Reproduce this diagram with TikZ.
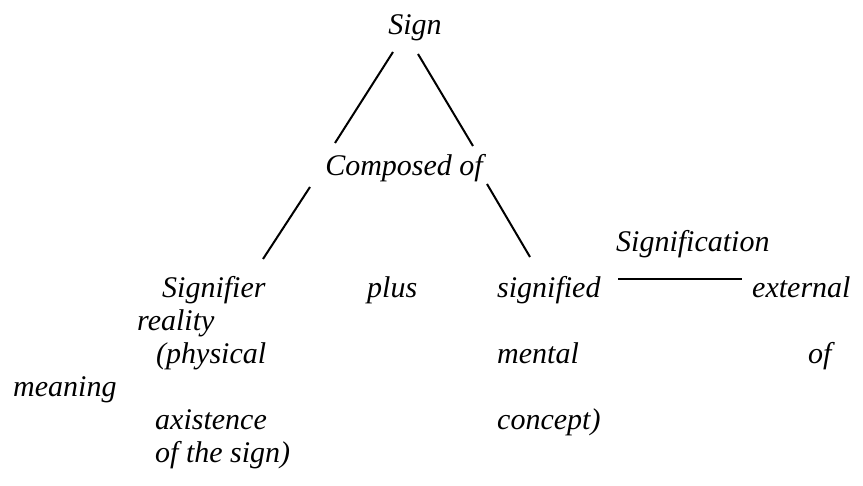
\documentclass[tikz,border=0pt]{standalone}
\usepackage{fontspec}
\setmainfont{Liberation Serif}
\tikzset{
  word/.style={inner sep=0pt,anchor=base west},
  link/.style={line width=2pt}
}
\begin{document}
\begin{tikzpicture}[x=1pt,y=-1pt,font=\fontsize{30}{36}\selectfont\itshape]
  \useasboundingbox (0,0) rectangle (863,486);
  \node[word,anchor=base] (sign) at (415,35) {Sign};
  \node[word,anchor=base] (comp) at (404,176) {Composed of};
  \node[word] (signif) at (616,252) {Signification};
  \node[word] (signifier) at (162,298) {Signifier};
  \node[word] (plus) at (367,298) {plus};
  \node[word] (sigd) at (497,298) {signified};
  \node[word] (ext) at (752,298) {external};
  \node[word] (reality) at (137,331) {reality};
  \node[word] (phys) at (156,364) {(physical};
  \node[word] (mental) at (497,364) {mental};
  \node[word] (of) at (808,364) {of};
  \node[word] (meaning) at (13,397) {meaning};
  \node[word] (axis) at (155,430) {axistence};
  \node[word] (concept) at (497,430) {concept)};
  \node[word] (ofsign) at (155,463) {of the sign)};
  \draw[link] ([shift={(-22,17)}]sign.base) -- ([shift={(-69,-33)}]comp.base);
  \draw[link] ([shift={(3,19)}]sign.base) -- ([shift={(69,-30)}]comp.base);
  \draw[link] ([shift={(-94,11)}]comp.base) -- ([shift={(101,-39)}]signifier.base west);
  \draw[link] ([shift={(83,8)}]comp.base) -- ([shift={(33,-41)}]sigd.base west);
  \draw[link] ([shift={(121,-19)}]sigd.base west) -- ([shift={(-10,-19)}]ext.base west);
\end{tikzpicture}
\end{document}
